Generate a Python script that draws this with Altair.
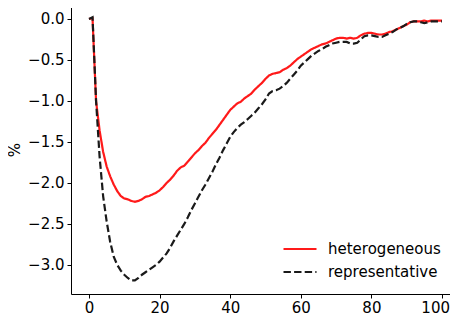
import altair as alt
import pandas as pd

periods = list(range(0, 101))

heterogeneous = [
    0.0, 0.01, -1.0, -1.36, -1.62, -1.80, -1.92, -2.02, -2.10, -2.16,
    -2.19, -2.20, -2.22, -2.23, -2.22, -2.20, -2.17, -2.16, -2.14, -2.12,
    -2.09, -2.05, -2.00, -1.96, -1.91, -1.85, -1.81, -1.79, -1.74, -1.69,
    -1.64, -1.60, -1.55, -1.51, -1.45, -1.40, -1.35, -1.29, -1.23, -1.17,
    -1.11, -1.07, -1.03, -1.01, -0.97, -0.94, -0.91, -0.86, -0.82, -0.78,
    -0.73, -0.69, -0.67, -0.66, -0.65, -0.62, -0.60, -0.57, -0.53, -0.49,
    -0.46, -0.43, -0.40, -0.37, -0.35, -0.33, -0.31, -0.30, -0.28, -0.26,
    -0.24, -0.23, -0.23, -0.24, -0.23, -0.24, -0.23, -0.20, -0.18, -0.17,
    -0.17, -0.18, -0.19, -0.19, -0.18, -0.16, -0.15, -0.13, -0.11, -0.09,
    -0.07, -0.04, -0.03, -0.03, -0.03, -0.02, -0.03, -0.02, -0.02, -0.02,
    -0.02,
]

representative = [
    0.0, 0.02, -1.0, -1.68, -2.16, -2.47, -2.72, -2.90, -3.00, -3.07,
    -3.12, -3.16, -3.19, -3.19, -3.16, -3.12, -3.09, -3.06, -3.03, -3.00,
    -2.96, -2.91, -2.86, -2.79, -2.71, -2.64, -2.57, -2.50, -2.42, -2.33,
    -2.25, -2.17, -2.09, -2.02, -1.94, -1.86, -1.77, -1.69, -1.60, -1.52,
    -1.44, -1.38, -1.33, -1.29, -1.26, -1.22, -1.18, -1.14, -1.09, -1.04,
    -0.98, -0.91, -0.88, -0.87, -0.85, -0.82, -0.78, -0.73, -0.68, -0.63,
    -0.57, -0.53, -0.49, -0.45, -0.42, -0.39, -0.37, -0.34, -0.32, -0.30,
    -0.29, -0.28, -0.28, -0.28, -0.30, -0.30, -0.29, -0.25, -0.21, -0.20,
    -0.20, -0.21, -0.22, -0.22, -0.20, -0.18, -0.16, -0.13, -0.11, -0.09,
    -0.06, -0.04, -0.03, -0.03, -0.04, -0.05, -0.04, -0.03, -0.03, -0.03,
    -0.03,
]

series_names = ["heterogeneous", "representative"]
series_colors = ["#ff1a1a", "#1a1a1a"]
series_dashes = [[1, 0], [7.4, 3.2]]
x_ticks = [0, 20, 40, 60, 80, 100]
y_ticks = [-3.0, -2.5, -2.0, -1.5, -1.0, -0.5, 0.0]

rows = []
for name, vals in zip(series_names, [heterogeneous, representative]):
    for t, v in zip(periods, vals):
        rows.append({"t": t, "value": v, "series": name})
df = pd.DataFrame(rows)

FONT = "DejaVu Sans"


def make_legend():
    return alt.Legend(
        title=None,
        orient="none",
        legendX=211,
        legendY=235.5,
        symbolType="stroke",
        symbolSize=1089,
        symbolStrokeWidth=2.2,
        clipHeight=17,
        labelOffset=10,
        labelFontSize=15,
        labelFont=FONT,
        labelColor="#000000",
        rowPadding=6,
    )


chart = (
    alt.Chart(df)
    .mark_line(strokeWidth=2.2, clip=True)
    .encode(
        x=alt.X(
            "t:Q",
            scale=alt.Scale(domain=[-5.1, 102.27], nice=False, zero=False),
            axis=alt.Axis(
                values=x_ticks,
                format="d",
                title=None,
                labelFlush=10,
                labelFlushOffset=7.5,
            ),
        ),
        y=alt.Y(
            "value:Q",
            scale=alt.Scale(domain=[-3.355, 0.17], nice=False, zero=False),
            axis=alt.Axis(values=y_ticks, format=".1f", title="%"),
        ),
        color=alt.Color(
            "series:N",
            scale=alt.Scale(domain=series_names, range=series_colors),
            legend=make_legend(),
        ),
        strokeDash=alt.StrokeDash(
            "series:N",
            scale=alt.Scale(domain=series_names, range=series_dashes),
            legend=make_legend(),
        ),
        detail="series:N",
    )
    .properties(
        width=379,
        height=289,
        autosize=alt.AutoSizeParams(type="none"),
        padding={"left": 63, "top": -3, "right": 0, "bottom": 24},
    )
    .configure_view(stroke=None)
    .configure_axis(
        grid=False,
        domainColor="#000000",
        domainWidth=1,
        tickColor="#000000",
        tickWidth=1,
        labelFont=FONT,
        labelFontSize=15,
        labelColor="#000000",
        titleFont=FONT,
        titleFontSize=15,
        titleFontWeight="normal",
        titleColor="#000000",
    )
    .configure_axisX(tickSize=4, labelPadding=2)
    .configure_axisY(tickSize=4, labelPadding=3, titlePadding=5)
)

chart.save("out.html", embed_options={"renderer": "svg", "actions": False})
